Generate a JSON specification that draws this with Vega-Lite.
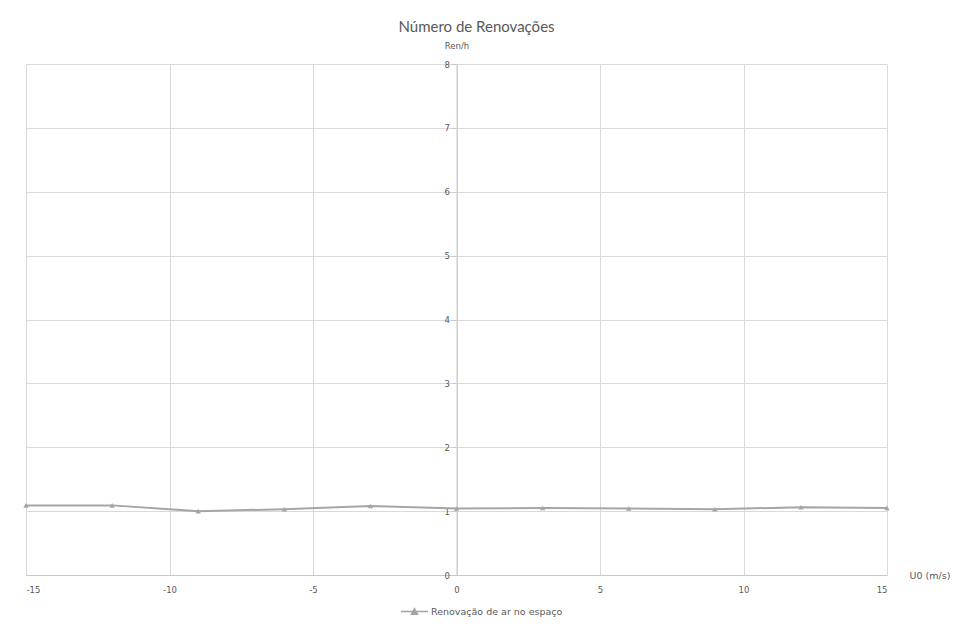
{
  "$schema": "https://vega.github.io/schema/vega-lite/v6.json",
  "width": 861,
  "height": 511,
  "autosize": {"type": "none"},
  "padding": {"left": 26, "top": 64, "right": 66, "bottom": 53},
  "background": "white",
  "config": {
    "font": "Lato",
    "view": {"stroke": null},
    "axis": {"gridColor": "#d9d9d9", "gridWidth": 1, "domainColor": "#c8c8c8", "labelColor": "#595959", "titleColor": "#595959", "labelFont": "Lato", "titleFont": "Lato", "titleFontWeight": "normal"}
  },
  "title": {"text": "Número de Renovações", "fontSize": 15, "font": "Lato", "fontWeight": "normal", "color": "#595959", "anchor": "middle", "frame": "group", "dx": 20, "offset": 6},
  "data": {
    "values": [
      {"u0": -15, "ren": 1.09, "serie": "Renovação de ar no espaço"},
      {"u0": -12, "ren": 1.09, "serie": "Renovação de ar no espaço"},
      {"u0": -9, "ren": 1.0, "serie": "Renovação de ar no espaço"},
      {"u0": -6, "ren": 1.03, "serie": "Renovação de ar no espaço"},
      {"u0": -3, "ren": 1.08, "serie": "Renovação de ar no espaço"},
      {"u0": 0, "ren": 1.04, "serie": "Renovação de ar no espaço"},
      {"u0": 3, "ren": 1.05, "serie": "Renovação de ar no espaço"},
      {"u0": 6, "ren": 1.04, "serie": "Renovação de ar no espaço"},
      {"u0": 9, "ren": 1.03, "serie": "Renovação de ar no espaço"},
      {"u0": 12, "ren": 1.06, "serie": "Renovação de ar no espaço"},
      {"u0": 15, "ren": 1.05, "serie": "Renovação de ar no espaço"}
    ]
  },
  "mark": {"type": "line", "strokeWidth": 2, "point": {"shape": "triangle-up", "size": 28, "filled": true, "color": "#a5a5a5"}},
  "encoding": {
    "x": {
      "field": "u0", "type": "quantitative",
      "scale": {"domain": [-15, 15], "nice": false},
      "axis": {"values": [-15, -10, -5, 0, 5, 10, 15], "labelExpr": "'' + datum.value", "title": "U0 (m/s)", "titleFont": "DejaVu Sans", "titleAngle": 0, "titleX": 883, "titleY": 0, "titleAlign": "left", "titleBaseline": "middle", "titleFontSize": 9.5, "labelFont": "DejaVu Sans", "labelFontSize": 8.5, "labelPadding": 10, "ticks": false, "grid": true, "domain": true}
    },
    "y": {
      "field": "ren", "type": "quantitative",
      "scale": {"domain": [0, 8], "nice": false},
      "axis": {"values": [0, 1, 2, 3, 4, 5, 6, 7, 8], "offset": -430.5, "title": "Ren/h", "titleFont": "DejaVu Sans", "titleAngle": 0, "titleX": 0, "titleY": -19, "titleAlign": "center", "titleBaseline": "middle", "titleFontSize": 8.5, "labelFont": "DejaVu Sans", "labelFontSize": 8.5, "labelPadding": 2, "ticks": true, "tickSize": 5, "tickColor": "#c8c8c8", "grid": true, "domain": true}
    },
    "color": {
      "field": "serie", "type": "nominal",
      "scale": {"range": ["#a5a5a5"]},
      "legend": {"title": null, "orient": "none", "legendX": 374, "legendY": 533, "labelFontSize": 9.5, "labelColor": "#595959", "labelFont": "DejaVu Sans", "symbolType": "M-1,0H1M-0.22,0.2L0,-0.2L0.22,0.2Z", "symbolSize": 729, "symbolStrokeWidth": 1.5, "symbolFillColor": "#a5a5a5", "symbolStrokeColor": "#a5a5a5", "labelOffset": 2}
    }
  }
}
